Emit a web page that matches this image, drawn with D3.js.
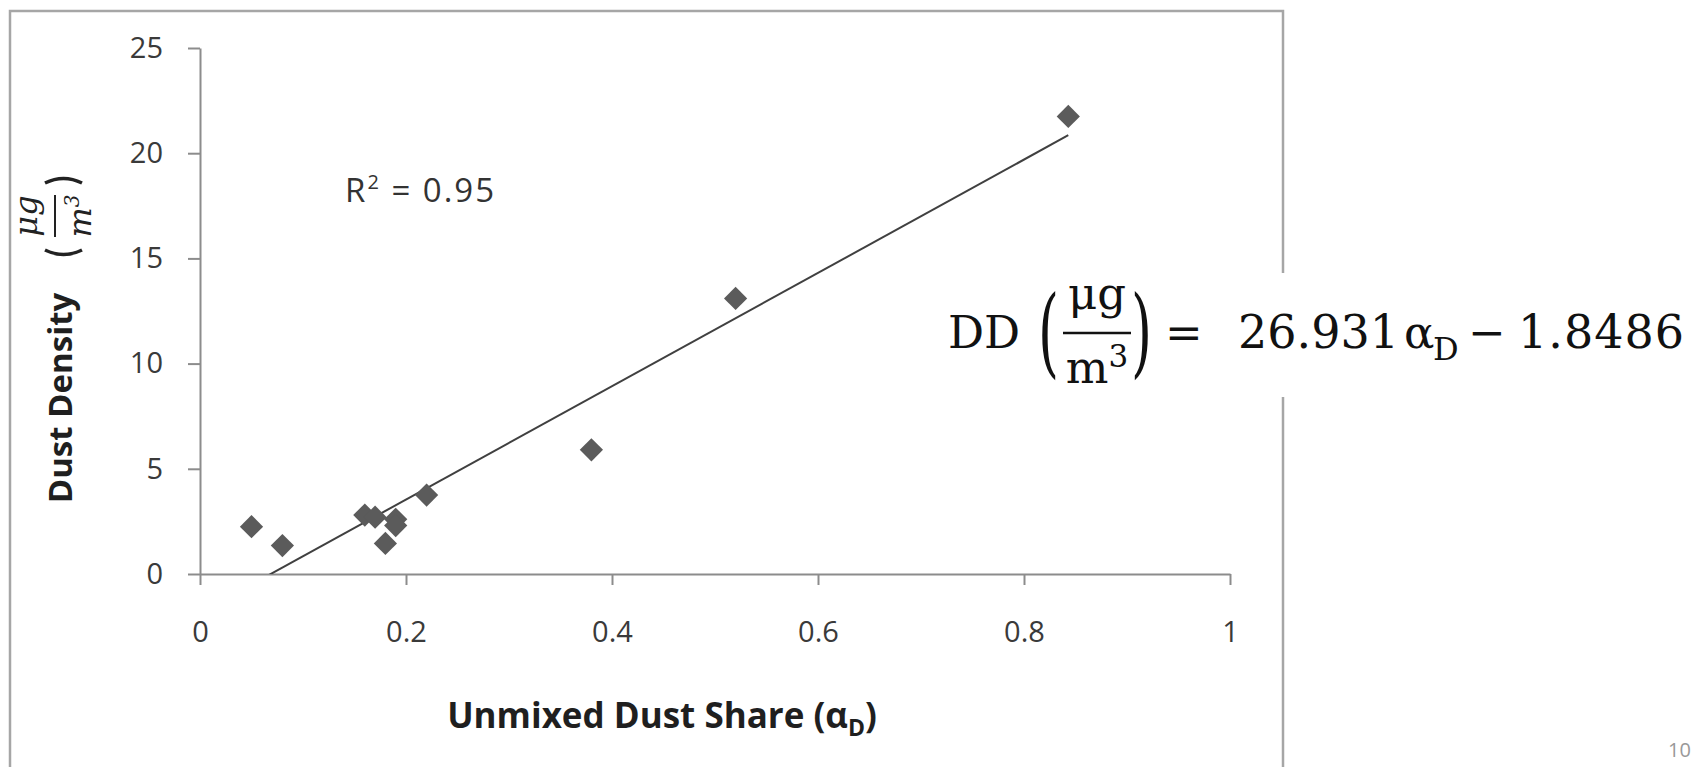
<!DOCTYPE html>
<html lang="en">
<head>
<meta charset="utf-8">
<title>Dust density vs unmixed dust share</title>
<script src="https://cdn.jsdelivr.net/npm/d3@7"></script>
<style>
  body { margin: 0; background: #fff; }
  svg { display: block; }
  .tick text { font-family: "Open Sans", sans-serif; font-size: 29px; fill: #3a3a3a; }
  .axis path, .axis line { stroke: #8c8c8c; stroke-width: 2; }
</style>
</head>
<body>
<script>
// values
var dustShare   = [0.05, 0.08, 0.16, 0.17, 0.18, 0.19, 0.19, 0.22, 0.38, 0.52, 0.843];
var dustDensity = [2.25, 1.35, 2.8, 2.7, 1.45, 2.6, 2.3, 3.75, 5.9, 13.1, 21.75];
var xTicks = [0, 0.2, 0.4, 0.6, 0.8, 1];
var yTicks = [0, 5, 10, 15, 20, 25];
var fit = [26.931, -1.8486];   // slope, intercept of the trendline
var rSquared = 0.95;

var w = 1704, h = 767;

var x = d3.scaleLinear().domain([0, 1]).range([200, 1230]);
var y = d3.scaleLinear().domain([0, 25]).range([574, 48]);

var svg = d3.select("body").append("svg")
    .attr("width", w)
    .attr("height", h);

// outer frame of the pasted chart (no bottom edge visible)
svg.append("path")
    .attr("d", "M10," + h + "V11H1283V" + h)
    .attr("fill", "none")
    .attr("stroke", "#a6a6a6")
    .attr("stroke-width", 2.5);

// axes
svg.append("g")
    .attr("class", "axis")
    .attr("transform", "translate(" + x(0) + ",0)")
    .call(d3.axisLeft(y).tickValues(yTicks).tickSize(12).tickSizeOuter(0).tickPadding(25)
        .tickFormat(function(d) { return d; }));

svg.append("g")
    .attr("class", "axis")
    .attr("transform", "translate(0," + y(0) + ")")
    .call(d3.axisBottom(x).tickValues(xTicks).tickSize(11).tickSizeOuter(0).tickPadding(36)
        .tickFormat(function(d) { return d; }));

// trendline, clipped to the plot area like Excel does
svg.append("clipPath").attr("id", "plot")
  .append("rect")
    .attr("x", x(0)).attr("y", y(25))
    .attr("width", x(1) - x(0)).attr("height", y(0) - y(25));

var xr = d3.extent(dustShare);
svg.append("path")
    .datum(xr)
    .attr("clip-path", "url(#plot)")
    .attr("fill", "none")
    .attr("stroke", "#404040")
    .attr("stroke-width", 2)
    .attr("d", d3.line()
        .x(function(d) { return x(d); })
        .y(function(d) { return y(fit[0] * d + fit[1]); }));

// diamonds
svg.selectAll(".pt")
    .data(dustShare)
    .enter()
    .append("path")
    .attr("class", "pt")
    .attr("d", d3.symbol().type(d3.symbolSquare).size(270))
    .attr("transform", function(d, i) {
        return "translate(" + x(d) + "," + y(dustDensity[i]) + ") rotate(45)";
    })
    .attr("fill", "#5b5b5b");

// R squared label
var r2 = svg.append("text")
    .attr("x", 345).attr("y", 202)
    .attr("font-family", "Open Sans, sans-serif")
    .attr("font-size", "33px")
    .attr("letter-spacing", "2px")
    .attr("fill", "#333");
r2.append("tspan").text("R");
r2.append("tspan").attr("dy", -13).attr("font-size", "20px").text("2");
r2.append("tspan").attr("dy", 13).text(" = " + rSquared);

// axis titles
svg.append("text")
    .attr("x", 662).attr("y", 728)
    .attr("text-anchor", "middle")
    .attr("font-family", "Open Sans, sans-serif")
    .attr("font-weight", "bold")
    .attr("font-size", "35px")
    .attr("fill", "#1f1f1f")
    .call(function(t) {
        t.append("tspan").text("Unmixed Dust Share (α");
        t.append("tspan").attr("dy", 8).attr("font-size", "23px").text("D");
        t.append("tspan").attr("dy", -8).text(")");
    });

svg.append("text")
    .attr("transform", "translate(72,398) rotate(-90)")
    .attr("text-anchor", "middle")
    .attr("font-family", "Open Sans, sans-serif")
    .attr("font-weight", "bold")
    .attr("font-size", "33px")
    .attr("fill", "#1f1f1f")
    .text("Dust Density");

// unit (µg / m³) written as a rotated fraction
var unit = svg.append("g")
    .attr("transform", "translate(55,216) rotate(-90)")
    .attr("font-family", "DejaVu Serif, serif")
    .attr("font-style", "italic")
    .attr("fill", "#222");
unit.append("text").attr("text-anchor", "middle").attr("y", -18)
    .attr("font-size", "32px").text("μg");
unit.append("line").attr("x1", -21).attr("x2", 21)
    .attr("stroke", "#222").attr("stroke-width", 2);
unit.append("text").attr("text-anchor", "middle").attr("y", 36)
    .attr("font-size", "32px")
    .call(function(t) {
        t.append("tspan").text("m");
        t.append("tspan").attr("dy", -12).attr("font-size", "20px").text("3");
    });
unit.append("path").attr("d", "M-34,-10Q-43,8.5 -34,27")
    .attr("fill", "none").attr("stroke", "#222").attr("stroke-width", 3.5);
unit.append("path").attr("d", "M33,-10Q42,8.5 33,27")
    .attr("fill", "none").attr("stroke", "#222").attr("stroke-width", 3.5);

// regression equation pasted over the right edge
svg.append("rect")
    .attr("x", 935).attr("y", 273)
    .attr("width", w - 935).attr("height", 124)
    .attr("fill", "#fff");

var eq = svg.append("g")
    .attr("font-family", "DejaVu Serif, serif")
    .attr("font-size", "45px")
    .attr("fill", "#111");

function put(txt, px, py, size) {
    return eq.append("text").attr("x", px).attr("y", py)
        .attr("font-size", size ? size + "px" : null).text(txt);
}

put("DD", 948, 348);
eq.append("text").attr("transform", "translate(1038,365) scale(0.55,1)")
    .attr("font-size", "98px").text("(");
put("μg", 1097, 309).attr("text-anchor", "middle");
eq.append("line").attr("x1", 1063).attr("x2", 1131).attr("y1", 333).attr("y2", 333)
    .attr("stroke", "#111").attr("stroke-width", 2.5);
put("m", 1097, 383).attr("text-anchor", "middle")
    .call(function(t) {
        t.text(null);
        t.append("tspan").text("m");
        t.append("tspan").attr("dy", -16).attr("font-size", "31px").text("3");
    });
eq.append("text").attr("transform", "translate(1131,365) scale(0.55,1)")
    .attr("font-size", "98px").text(")");
put("=", 1165, 348);
put(String(fit[0]), 1238, 348, 46);
put("α", 1404, 348);
put("D", 1433, 360, 32);
put("−", 1468, 348);
put(String(Math.abs(fit[1])), 1518, 348, 46).attr("letter-spacing", "1px");

// page number at the bottom edge
svg.append("text")
    .attr("x", 1668).attr("y", 757)
    .attr("font-family", "Open Sans, sans-serif")
    .attr("font-size", "20px")
    .attr("fill", "#999")
    .text("10");
</script>
</body>
</html>
